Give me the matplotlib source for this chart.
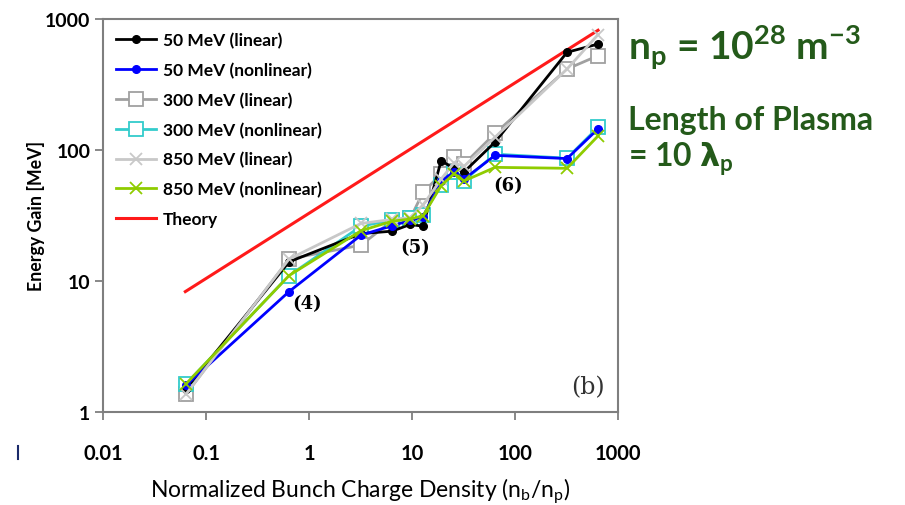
import matplotlib
matplotlib.use("Agg")
import matplotlib.pyplot as plt
from matplotlib.lines import Line2D

plt.rcParams['font.family'] = ['Lato', 'DejaVu Sans']

# normalized bunch charge density n_b/n_p
x = [0.064, 0.64, 3.2, 6.4, 9.6, 12.8, 19.2, 25.6, 32, 64, 320, 640]

# energy gain [MeV]
lin_50 = [1.5, 14, 23, 24, 27, 26.2, 83, 72, 68, 115, 557, 644]
nonlin_50 = [1.6, 8.3, 22.4, 26.4, 29, 31, 58, 68, 60, 91, 86, 145]
lin_300 = [1.37, 14.7, 18.8, 28.8, 30, 47.5, 65.6, 89, 78, 134, 415, 525]
nonlin_300 = [1.64, 11.0, 26.2, 29.2, 30.2, 31.8, 54.5, 67.5, 58.3, 93, 86.6, 149]
lin_850 = [1.37, 14.7, 27.5, 29.5, 30.5, 38, 60, 80, 75, 125, 415, 760]
nonlin_850 = [1.64, 11.0, 24.2, 28.6, 29.7, 31.5, 53.4, 66, 58, 73.7, 72.5, 128]

theory_x = [0.063, 640]
theory_y = [8.3, 820]

green = '#245a1a'

fig = plt.figure(figsize=(9.05, 5.06), dpi=100)
ax = fig.add_axes([103/905, 1-413/506, 515/905, 393/506])

ax.plot(theory_x, theory_y, color='#ff1a1a', lw=2.2, label='Theory', zorder=1)
ax.plot(x, lin_50, '-o', color='black', lw=2, ms=5.5, label='50 MeV (linear)', zorder=3)
ax.plot(x, nonlin_50, '-o', color='#0000ff', lw=2, ms=5.5, label='50 MeV (nonlinear)', zorder=3)
ax.plot(x, lin_300, '-s', color='#a0a0a0', mfc='white', mec='#a0a0a0', lw=2, ms=10, mew=1.3,
        label='300 MeV (linear)', zorder=2)
ax.plot(x, nonlin_300, '-s', color='#33cccc', mfc='white', mec='#33cccc', lw=2, ms=10, mew=1.3,
        label='300 MeV (nonlinear)', zorder=2)
ax.plot(x, lin_850, '-x', color='#c8c8c8', lw=2, ms=9, mew=1.3, label='850 MeV (linear)', zorder=4)
ax.plot(x, nonlin_850, '-x', color='#8fcc00', lw=2, ms=9, mew=1.3, label='850 MeV (nonlinear)', zorder=4)

ax.set_xscale('log')
ax.set_yscale('log')
ax.set_xlim(0.01, 1000)
ax.set_ylim(1, 1000)

ax.set_xticks([0.01, 0.1, 1, 10, 100, 1000])
ax.set_xticklabels(['0.01', '0.1', '1', '10', '100', '1000'])
ax.set_yticks([1, 10, 100, 1000])
ax.set_yticklabels(['1', '10', '100', '1000'])
ax.minorticks_off()
ax.tick_params(axis='x', direction='out', length=6, width=1.3, color='#7f7f7f', pad=16, labelsize=14.5)
ax.tick_params(axis='y', direction='out', length=6, width=1.3, color='#7f7f7f', pad=3, labelsize=14)
for lab in ax.get_xticklabels() + ax.get_yticklabels():
    lab.set_fontweight('bold')
for s in ax.spines.values():
    s.set_color('#7f7f7f')
    s.set_linewidth(1.5)

handles, labels = ax.get_legend_handles_labels()
order = [1, 2, 3, 4, 5, 6, 0]
ax.legend([handles[i] for i in order], [labels[i] for i in order],
          loc='upper left', frameon=False, prop={'weight': 'bold', 'size': 12.5},
          handlelength=2.3, labelspacing=0.78, borderaxespad=0.35, handletextpad=0.4,
          borderpad=0.4)

for txt, px, py in [('(4)', 307, 304), ('(5)', 415, 248), ('(6)', 508, 186)]:
    fig.text(px/905, 1-py/506, txt, ha='center', va='center', fontsize=13, fontweight='bold',
             family='DejaVu Serif')

ax.text(0.975, 0.035, '(b)', transform=ax.transAxes, ha='right', va='bottom', fontsize=17,
        family='DejaVu Serif', color='#333333')

fig.text(36/905, 1-216/506, 'Energy Gain [MeV]', rotation=90, ha='center', va='center',
         fontsize=12.8, fontweight='bold')
fig.text(360/905, 1-492/506, 'Normalized Bunch Charge Density (n$_\\mathregular{b}$/n$_\\mathregular{p}$)',
         ha='center', va='center', fontsize=16.5)

fig.text(628/905, 1-48/506, 'n$_\\mathregular{p}$ = 10$^\\mathregular{28}$ m$^\\mathregular{-3}$',
         ha='left', va='center', fontsize=28, fontweight='bold', color=green)
fig.text(628/905, 1-121/506, 'Length of Plasma', ha='left', va='center', fontsize=23,
         fontweight='bold', color=green)
fig.text(628/905, 1-159/506, '= 10 $\\mathbf{\\lambda}_\\mathregular{p}$', ha='left', va='center',
         fontsize=23, fontweight='bold', color=green)

fig.add_artist(Line2D([18/905, 18/905], [1-447/506, 1-460/506], color='#1a2a6a', lw=1.5))

fig.savefig('out.png', dpi=100)
